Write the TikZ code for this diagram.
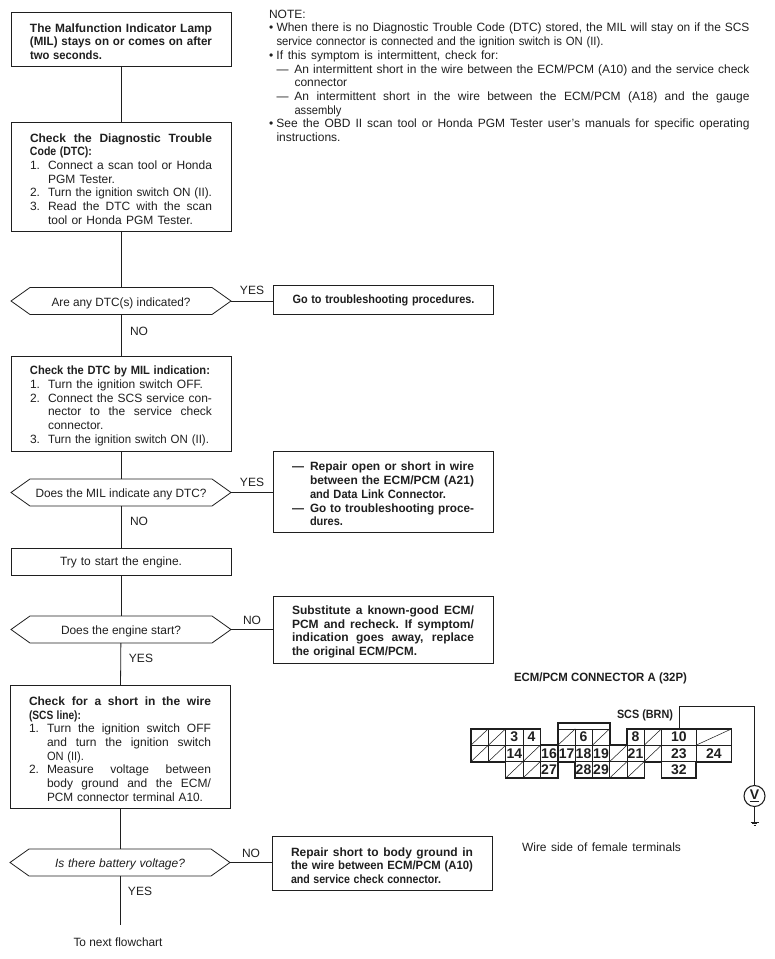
\documentclass[tikz,border=0pt]{standalone}
\usepackage{fontspec}
\usepackage{graphicx}
\setmainfont{Liberation Sans}
\newlength\px \setlength\px{0.75pt}
\newlength\tw \newlength\nw
\hbadness=10000 \hfuzz=20pt
\parindent=0pt \parskip=0pt
% one line set to an exact width: spaces stretch, or the line is condensed if too wide
\newcommand\Lw[2]{\setlength\tw{#1}\setbox0=\hbox{#2}\setlength\nw{\wd0}%
  \ifdim\nw>\tw\pgfmathsetmacro\rr{\tw/\nw}\hbox to\tw{\scalebox{\rr}[1]{#2}\hss}%
  \else\hbox to\tw{\spaceskip=.278em plus 1fill\relax #2}\fi}
\newcommand\J[1]{\Lw{\linewidth}{#1}\par}
\newcommand\W[2]{\Lw{#1\px}{#2}\par}
\newcommand\It[4]{\hbox{\hbox to #1\px{#2\hss}\Lw{#3\px}{#4}}\par}
\newcommand\Ii[3]{\hbox{\hskip7.5\px\hbox to 18\px{#1\hss}\Lw{#2\px}{#3}}\par}
\newcommand\hexa[1]{\draw[line] (#1.west) -- ([xshift=19\px]#1.north west) -- ([xshift=-19\px]#1.north east) -- (#1.east) -- ([xshift=-19\px]#1.south east) -- ([xshift=19\px]#1.south west) -- cycle;}
\definecolor{ink}{gray}{0.12}
\tikzset{
  x=0.75pt,y=-0.75pt,
  txt/.style={font=\fontsize{9}{10.28}\selectfont,text=ink,inner sep=0pt,outer sep=0pt},
  line/.style={draw=ink,line width=0.6pt},
  flow/.style={line},
  fbox/.style={txt,line,text width=182\px,inner xsep=19\px,inner ysep=0pt,minimum height=#1\px,execute at end node={\par\vspace*{-5\px}}},
  bbox/.style={fbox=#1,font=\fontsize{9}{10.28}\selectfont\bfseries},
  hexn/.style={txt,minimum width=220\px,minimum height=27\px,text height=10\px,text depth=0pt},
  lab/.style={txt,anchor=center},
  cell/.style={line,line width=0.45pt,inner sep=0pt,outer sep=0pt,minimum width=#1\px,minimum height=16.4\px,font=\fontsize{10.5}{11}\selectfont\bfseries,text=ink},
  hcell/.style={cell=#1,path picture={\draw[draw=ink,line width=0.4pt] (path picture bounding box.south west) -- (path picture bounding box.north east);}},
}
\begin{document}
\begin{tikzpicture}
\useasboundingbox (0,0) rectangle (774,959);
% flowchart boxes
\node[fbox=54,anchor=center] (b1) at (121,39) {%
  \J{\textbf{The Malfunction Indicator Lamp}}
  \J{\textbf{(MIL) stays on or comes on after}}
  \W{72}{\textbf{two seconds.}}};
\node[fbox=109] (b2) at (121,176.5) {%
  \J{\textbf{Check the Diagnostic Trouble}}
  \W{62}{\textbf{Code (DTC):}}
  \It{18}{1.}{164}{Connect a scan tool or Honda}
  \It{18}{}{67}{PGM Tester.}
  \It{18}{2.}{164}{Turn the ignition switch ON (II).}
  \It{18}{3.}{164}{Read the DTC with the scan}
  \It{18}{}{145}{tool or Honda PGM Tester.}};
\node[hexn] (d1) at (121,301) {\Lw{139\px}{Are any DTC(s) indicated?}};
\hexa{d1}
\node[bbox=29] (y1) at (383.5,299.5) {\J{Go to troubleshooting procedures.}};
\node[fbox=95] (b3) at (121,403.5) {%
  \W{180}{\textbf{Check the DTC by MIL indication:}}
  \It{18}{1.}{155}{Turn the ignition switch OFF.}
  \It{18}{2.}{164}{Connect the SCS service con-}
  \It{18}{}{164}{nector to the service check}
  \It{18}{}{56}{connector.}
  \It{18}{3.}{161}{Turn the ignition switch ON (II).}};
\node[hexn] (d2) at (121,492.5) {\Lw{171\px}{Does the MIL indicate any DTC?}};
\hexa{d2}
\node[bbox=81] (y2) at (383,491.5) {%
  \It{18}{—}{164}{Repair open or short in wire}
  \It{18}{}{164}{between the ECM/PCM (A21)}
  \It{18}{}{136}{and Data Link Connector.}
  \It{18}{—}{164}{Go to troubleshooting proce-}
  \It{18}{}{33}{dures.}};
\node[fbox=27] (b4) at (121,561.5) {\hbox to\linewidth{\hss\Lw{122\px}{Try to start the engine.}\hss}\par};
\node[hexn] (d3) at (121,629.5) {\Lw{120\px}{Does the engine start?}};
\hexa{d3}
\node[bbox=67] (y3) at (383,629.5) {%
  \J{Substitute a known-good ECM/}
  \J{PCM and recheck. If symptom/}
  \J{indication goes away, replace}
  \W{125}{the original ECM/PCM.}};
\node[fbox=123] (b5) at (120,746.5) {%
  \J{\textbf{Check for a short in the wire}}
  \W{52}{\textbf{(SCS line):}}
  \It{18}{1.}{164}{Turn the ignition switch OFF}
  \It{18}{}{164}{and turn the ignition switch}
  \It{18}{}{37}{ON (II).}
  \It{18}{2.}{164}{Measure voltage between}
  \It{18}{}{164}{body ground and the ECM/}
  \It{18}{}{156}{PCM connector terminal A10.}};
\node[hexn] (d4) at (120,862.5) {\Lw{130\px}{\itshape Is there battery voltage?}};
\hexa{d4}
\node[bbox=54] (y4) at (382,863) {%
  \J{Repair short to body ground in}
  \J{the wire between ECM/PCM (A10)}
  \W{150}{and service check connector.}};
\coordinate (endf) at (120,925);
\node[lab] (next) at (118,942) {\Lw{89\px}{To next flowchart}};
% flow connectors
\draw[flow] (b1) -- (b2);
\draw[flow] (b2) -- (d1);
\draw[flow] (d1) -- (b3);
\draw[flow] (b3) -- (d2);
\draw[flow] (d2) -- (b4);
\draw[flow] (b4) -- (d3);
\draw[flow] (d3) -- (b5);
\draw[flow] (b5) -- (d4);
\draw[flow] (d4) -- (endf);
\draw[flow] (d1.east) -- (d1.east -| y1.west);
\draw[flow] (d2.east) -- (d2.east -| y2.west);
\draw[flow] (d3.east) -- (d3.east -| y3.west);
\draw[flow] (d4.east) -- (d4.east -| y4.west);
% branch labels
\node[lab] (l1) at (252,290) {YES};
\node[lab] (l2) at (139,331) {NO};
\node[lab] (l3) at (252,482) {YES};
\node[lab] (l4) at (139,521) {NO};
\node[lab] (l5) at (252,620) {NO};
\node[lab] (l6) at (141,658) {YES};
\node[lab] (l7) at (251,853) {NO};
\node[lab] (l8) at (140,891) {YES};
% note
\node[txt,anchor=west,text width=481\px] (note) at (269,75.8) {%
  \W{100}{NOTE:}
  \It{7.5}{•}{473}{When there is no Diagnostic Trouble Code (DTC) stored, the MIL will stay on if the SCS}
  \It{7.5}{}{327}{service connector is connected and the ignition switch is ON (II).}
  \It{7.5}{•}{222}{If this symptom is intermittent, check for:}
  \Ii{—}{455}{An intermittent short in the wire between the ECM/PCM (A10) and the service check}
  \Ii{}{53}{connector}
  \Ii{—}{455}{An intermittent short in the wire between the ECM/PCM (A18) and the gauge}
  \Ii{}{47}{assembly}
  \It{7.5}{•}{473}{See the OBD II scan tool or Honda PGM Tester user's manuals for specific operating}
  \It{7.5}{}{65}{instructions.}};
% connector diagram
\node[txt,font=\fontsize{9}{10.28}\selectfont\bfseries] (ctitle) at (600.5,678) {\Lw{173\px}{ECM/PCM CONNECTOR A (32P)}};
\node[txt,font=\fontsize{9}{10.28}\selectfont\bfseries] (scs) at (645,715) {\Lw{56\px}{SCS (BRN)}};
\node[txt] (wside) at (601.5,847) {\Lw{159\px}{Wire side of female terminals}};
% row 1
\node[hcell=17.3] (a1) at (479.6,737) {};
\node[hcell=17.3] (a2) at (497,737) {};
\node[cell=17.3] (c3) at (514.3,737) {3};
\node[cell=17.3] (c4) at (531.6,737) {4};
\node[hcell=17.3] (a5) at (566.6,737) {};
\node[cell=17.3] (c6) at (583.5,737) {6};
\node[hcell=17.3] (a7) at (601,737) {};
\node[cell=17.3] (c8) at (635.5,737) {8};
\node[hcell=17.3] (a9) at (652.8,737) {};
\node[cell=34.3] (c10) at (678.9,737) {10};
\node[hcell=35.7] (a11) at (713.9,737) {};
% row 2
\node[hcell=17.3] (e1) at (479.6,753.4) {};
\node[hcell=17.3] (e2) at (497,753.4) {};
\node[cell=17.3] (c14) at (514.3,753.4) {14};
\node[hcell=17.3] (e3) at (531.6,753.4) {};
\node[cell=17.3] (c16) at (549,753.4) {16};
\node[cell=17.3] (c17) at (566.6,753.4) {17};
\node[cell=17.3] (c18) at (583.5,753.4) {18};
\node[cell=17.3] (c19) at (601,753.4) {19};
\node[hcell=17.3] (e4) at (618.3,753.4) {};
\node[cell=17.3] (c21) at (635.5,753.4) {21};
\node[hcell=17.3] (e5) at (652.8,753.4) {};
\node[cell=34.3] (c23) at (678.9,753.4) {23};
\node[cell=35.7] (c24) at (713.9,753.4) {24};
% row 3
\node[hcell=17.3] (g1) at (514.3,769.8) {};
\node[hcell=17.3] (g2) at (531.6,769.8) {};
\node[cell=17.3] (c27) at (549,769.8) {27};
\node[cell=17.3] (c28) at (583.5,769.8) {28};
\node[cell=17.3] (c29) at (601,769.8) {29};
\node[hcell=17.3] (g3) at (618.3,769.8) {};
\node[hcell=17.3] (g4) at (635.5,769.8) {};
\node[cell=34.3] (c32) at (678.9,769.8) {32};
% heavy outline
\draw[draw=ink,line width=0.9pt] (471,729) -- (540.3,729) -- (540.3,745) -- (558,745) -- (558,723) -- (610,723) -- (610,745) -- (627,745) -- (627,729) -- (731.7,729) -- (731.7,762) -- (696,762) -- (696,778) -- (661.7,778) -- (661.7,762) -- (644.2,762) -- (644.2,778) -- (575,778) -- (575,762) -- (558,762) -- (558,778) -- (505.7,778) -- (505.7,762) -- (471,762) -- cycle;
% meter
\node[circle,line,line width=0.8pt,minimum size=21\px,inner sep=0pt,outer sep=0pt,font=\fontsize{10.5}{11}\selectfont\bfseries,text=ink] (vm) at (754.5,796) {\underline{V}};
\coordinate (wc) at (754.5,706);
\coordinate (gnd) at (754.5,822);
\draw[line] (c10.north) |- (wc) -- (vm.north);
\draw[line] (vm.south) -- (gnd);
\draw[line] ([xshift=-4\px]gnd) -- ([xshift=4\px]gnd);
\draw[line] ([xshift=-2.5\px,yshift=-1.6\px]gnd) -- ([xshift=2.5\px,yshift=-1.6\px]gnd);
\draw[line] ([xshift=-1\px,yshift=-3.2\px]gnd) -- ([xshift=1\px,yshift=-3.2\px]gnd);
\end{tikzpicture}
\end{document}
